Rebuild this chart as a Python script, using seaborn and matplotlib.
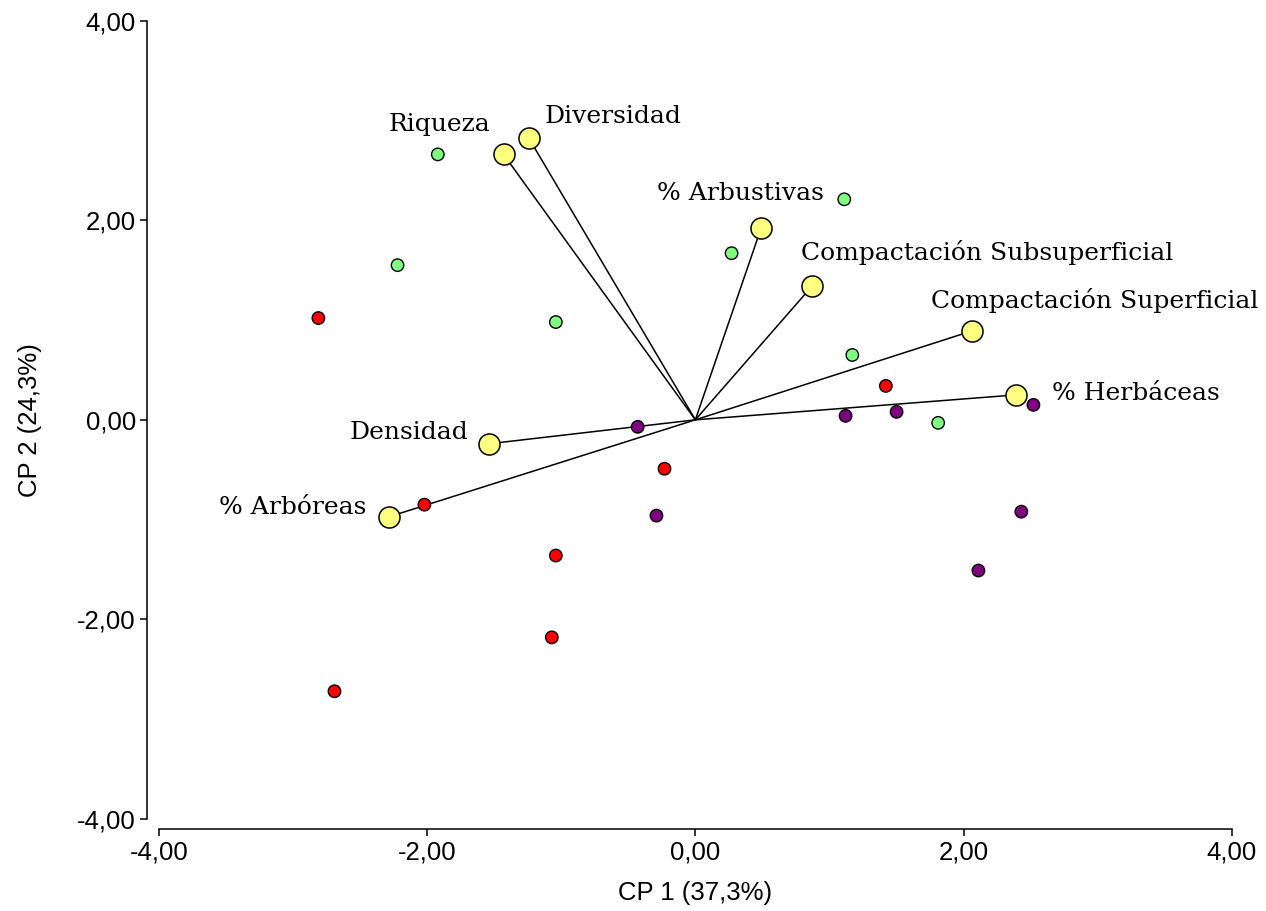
import numpy as np
import pandas as pd
import matplotlib
matplotlib.use("Agg")
import matplotlib.pyplot as plt
import seaborn as sns

# Cargas de las variables (CP1, CP2)
variables = ["Riqueza", "Diversidad", "% Arbustivas", "Compactación Subsuperficial",
             "Compactación Superficial", "% Herbáceas", "Densidad", "% Arbóreas"]
carga_cp1 = [-1.43, -1.24, 0.49, 0.87, 2.06, 2.39, -1.54, -2.28]
carga_cp2 = [2.66, 2.82, 1.92, 1.34, 0.89, 0.25, -0.24, -0.97]

# Puntajes de los sitios por grupo
verde_cp1 = [-1.92, -2.22, -1.04, 0.27, 1.11, 1.17, 1.81]
verde_cp2 = [2.66, 1.55, 0.98, 1.67, 2.21, 0.65, -0.03]
rojo_cp1 = [-2.81, -2.02, -0.23, -1.04, -1.07, -2.69, 1.42]
rojo_cp2 = [1.02, -0.85, -0.49, -1.36, -2.18, -2.72, 0.34]
morado_cp1 = [-0.43, -0.29, 1.12, 1.50, 2.52, 2.43, 2.11]
morado_cp2 = [-0.07, -0.96, 0.04, 0.08, 0.15, -0.92, -1.51]

ticks = [-4, -2, 0, 2, 4]

sitios = pd.DataFrame({
    "CP1": verde_cp1 + rojo_cp1 + morado_cp1,
    "CP2": verde_cp2 + rojo_cp2 + morado_cp2,
    "grupo": ["verde"] * len(verde_cp1) + ["rojo"] * len(rojo_cp1) + ["morado"] * len(morado_cp1),
})
cargas = pd.DataFrame({"CP1": carga_cp1, "CP2": carga_cp2, "variable": variables})

sns.set_style("ticks")
plt.rcParams["font.family"] = ["Liberation Sans", "DejaVu Sans"]
plt.rcParams["text.color"] = "black"
plt.rcParams["axes.labelcolor"] = "black"
plt.rcParams["xtick.color"] = "black"
plt.rcParams["ytick.color"] = "black"

fig = plt.figure(figsize=(12.66, 9.11), dpi=100)
ax = fig.add_axes([0.1254, 0.101, 0.8477, 0.8763])

# vectores desde el origen
for x, y in zip(carga_cp1, carga_cp2):
    ax.plot([0, x], [0, y], color="black", lw=1.1, zorder=1)

sns.scatterplot(data=sitios, x="CP1", y="CP2", hue="grupo",
                palette={"verde": "#80FF80", "rojo": "#FF0000", "morado": "#800080"},
                s=80, edgecolor="black", linewidth=1.0, legend=False, ax=ax, zorder=3)
sns.scatterplot(data=cargas, x="CP1", y="CP2", color="#FFFF80", s=230,
                edgecolor="black", linewidth=1.1, legend=False, ax=ax, zorder=4)

# etiquetas de las variables
desplaz = {
    "Riqueza": ((-9.4, 21.6), "right"),
    "Diversidad": ((11.5, 15.8), "left"),
    "% Arbustivas": ((-15, 25), "center"),
    "Compactación Subsuperficial": ((-8, 24), "left"),
    "Compactación Superficial": ((-29.5, 22), "left"),
    "% Herbáceas": ((26, 0.7), "left"),
    "Densidad": ((-15, 8), "right"),
    "% Arbóreas": ((-16.5, 6.5), "right"),
}
for var, x, y in zip(variables, carga_cp1, carga_cp2):
    off, ha = desplaz[var]
    ax.annotate(var, (x, y), xytext=off, textcoords="offset points",
                ha=ha, va="center", fontsize=18, color="black",
                family=["DejaVu Serif"])

ax.set_xlim(-4, 4)
ax.set_ylim(-4, 4)
ax.set_xticks(ticks)
ax.set_yticks(ticks)
ax.set_xticklabels([f"{t:.2f}".replace(".", ",") for t in ticks])
ax.set_yticklabels([f"{t:.2f}".replace(".", ",") for t in ticks])
ax.tick_params(length=5, width=1.1, color="black", pad=3, labelsize=18.5, labelcolor="black")
ax.set_xlabel("CP 1 (37,3%)", fontsize=18.5, labelpad=12)
ax.set_ylabel("CP 2 (24,3%)", fontsize=18.5, labelpad=25)

sns.despine(ax=ax)
ax.spines["left"].set_position(("outward", 8.5))
ax.spines["bottom"].set_position(("outward", 7.2))
for s in ["left", "bottom"]:
    ax.spines[s].set_linewidth(1.1)
    ax.spines[s].set_color("black")

fig.savefig("out.png", dpi=100)
